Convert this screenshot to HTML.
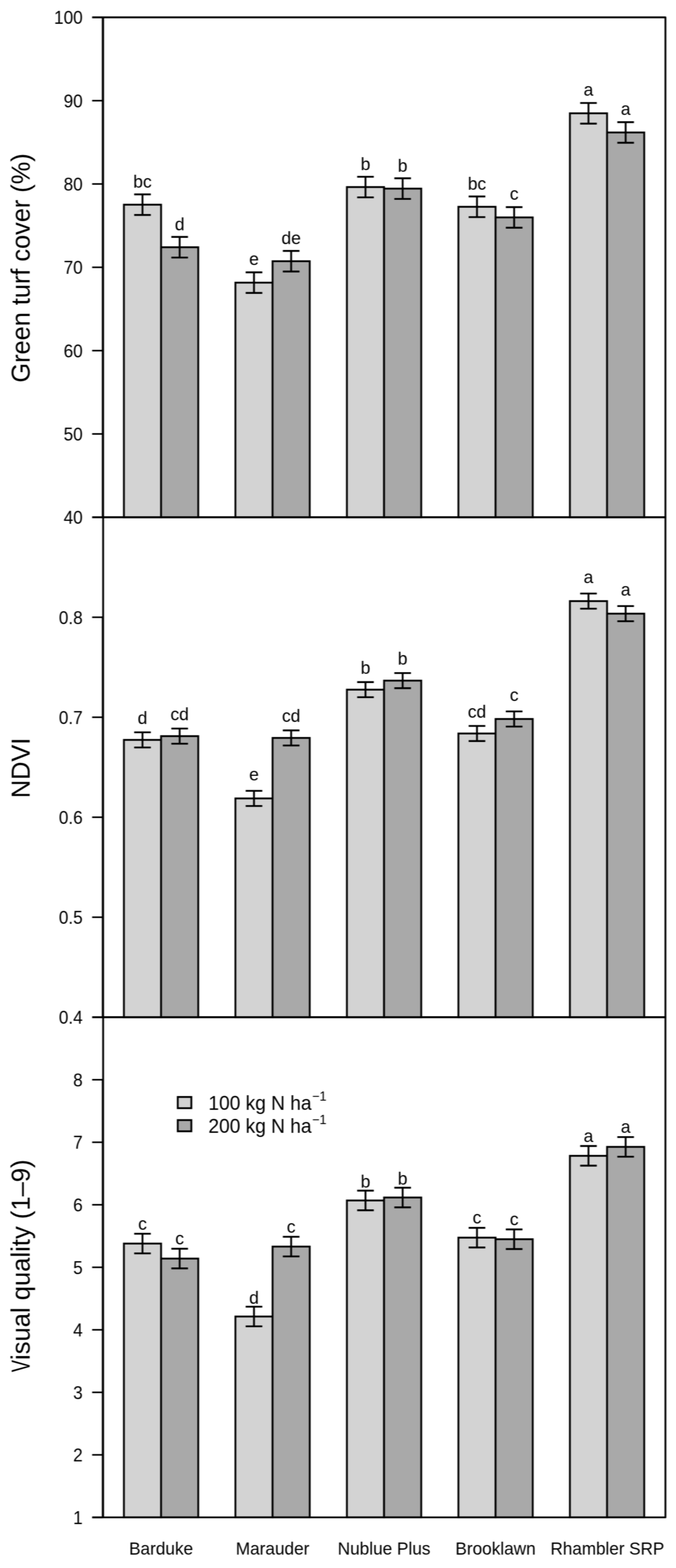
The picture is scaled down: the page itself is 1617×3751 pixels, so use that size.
<!DOCTYPE html>
<html lang="en"><head><meta charset="utf-8"><title>Turf cultivar response to nitrogen</title>
<style>
html,body{margin:0;padding:0;background:#fff;}
body{width:1617px;height:3751px;overflow:hidden;}
svg{display:block;}
text{font-family:"Liberation Sans",sans-serif;fill:#000;font-kerning:none;}
.t{font-size:41.67px;}
.yl{font-size:41.67px;text-anchor:end;}
.xl{font-size:41.67px;text-anchor:middle;}
.sig{font-size:41.67px;text-anchor:middle;}
.ttl{font-size:62.5px;text-anchor:middle;}
.lg{font-size:46.2px;}
.ln{stroke:#000;stroke-width:4.4;fill:none;stroke-linecap:round;stroke-linejoin:round;}
.eb{stroke-linecap:butt;}
.bar{stroke:#000;stroke-width:4.4;stroke-linejoin:miter;}
</style></head><body>
<svg width="1617" height="3751" viewBox="0 0 1617 3751">
<defs><filter id="soft" x="0" y="0" width="1617" height="3751" filterUnits="userSpaceOnUse" color-interpolation-filters="sRGB"><feGaussianBlur in="SourceGraphic" stdDeviation="0.9 0.5" result="h"/><feGaussianBlur in="SourceGraphic" stdDeviation="0.9" result="hv"/><feComposite in="h" in2="hv" operator="arithmetic" k1="0" k2="0.6" k3="0.4" k4="0"/></filter></defs>
<g filter="url(#soft)">
<rect x="0" y="0" width="1617" height="3751" fill="#fff"/>
<g>
<rect class="bar" x="296.40" y="489.65" width="88.90" height="747.75" fill="#d3d3d3"/>
<rect class="bar" x="385.30" y="591.45" width="88.90" height="645.95" fill="#a9a9a9"/>
<rect class="bar" x="563.10" y="676.15" width="88.90" height="561.25" fill="#d3d3d3"/>
<rect class="bar" x="652.00" y="624.90" width="88.90" height="612.50" fill="#a9a9a9"/>
<rect class="bar" x="829.80" y="447.50" width="88.90" height="789.90" fill="#d3d3d3"/>
<rect class="bar" x="918.70" y="451.20" width="88.90" height="786.20" fill="#a9a9a9"/>
<rect class="bar" x="1096.50" y="494.70" width="88.90" height="742.70" fill="#d3d3d3"/>
<rect class="bar" x="1185.40" y="520.10" width="88.90" height="717.30" fill="#a9a9a9"/>
<rect class="bar" x="1363.20" y="271.05" width="88.90" height="966.35" fill="#d3d3d3"/>
<rect class="bar" x="1452.10" y="316.90" width="88.90" height="920.50" fill="#a9a9a9"/>
<path class="ln eb" d="M340.85 465.00V514.30M320.95 465.00H360.75M320.95 514.30H360.75"/>
<text class="sig" x="340.85" y="449.20">bc</text>
<path class="ln eb" d="M429.75 566.80V616.10M409.85 566.80H449.65M409.85 616.10H449.65"/>
<text class="sig" x="429.75" y="551.00">d</text>
<path class="ln eb" d="M607.55 651.50V700.80M587.65 651.50H627.45M587.65 700.80H627.45"/>
<text class="sig" x="607.55" y="634.00">e</text>
<path class="ln eb" d="M696.45 600.25V649.55M676.55 600.25H716.35M676.55 649.55H716.35"/>
<text class="sig" x="696.45" y="584.45">de</text>
<path class="ln eb" d="M874.25 422.85V472.15M854.35 422.85H894.15M854.35 472.15H894.15"/>
<text class="sig" x="874.25" y="407.05">b</text>
<path class="ln eb" d="M963.15 426.55V475.85M943.25 426.55H983.05M943.25 475.85H983.05"/>
<text class="sig" x="963.15" y="410.75">b</text>
<path class="ln eb" d="M1140.95 470.05V519.35M1121.05 470.05H1160.85M1121.05 519.35H1160.85"/>
<text class="sig" x="1140.95" y="454.25">bc</text>
<path class="ln eb" d="M1229.85 495.45V544.75M1209.95 495.45H1249.75M1209.95 544.75H1249.75"/>
<text class="sig" x="1229.85" y="477.95">c</text>
<path class="ln eb" d="M1407.65 246.40V295.70M1387.75 246.40H1427.55M1387.75 295.70H1427.55"/>
<text class="sig" x="1407.65" y="228.90">a</text>
<path class="ln eb" d="M1496.55 292.25V341.55M1476.65 292.25H1516.45M1476.65 341.55H1516.45"/>
<text class="sig" x="1496.55" y="274.75">a</text>
</g>
<g>
<rect class="bar" x="296.40" y="1770.00" width="88.90" height="663.40" fill="#d3d3d3"/>
<rect class="bar" x="385.30" y="1761.00" width="88.90" height="672.40" fill="#a9a9a9"/>
<rect class="bar" x="563.10" y="1910.00" width="88.90" height="523.40" fill="#d3d3d3"/>
<rect class="bar" x="652.00" y="1765.30" width="88.90" height="668.10" fill="#a9a9a9"/>
<rect class="bar" x="829.80" y="1649.80" width="88.90" height="783.60" fill="#d3d3d3"/>
<rect class="bar" x="918.70" y="1628.20" width="88.90" height="805.20" fill="#a9a9a9"/>
<rect class="bar" x="1096.50" y="1754.70" width="88.90" height="678.70" fill="#d3d3d3"/>
<rect class="bar" x="1185.40" y="1720.00" width="88.90" height="713.40" fill="#a9a9a9"/>
<rect class="bar" x="1363.20" y="1438.00" width="88.90" height="995.40" fill="#d3d3d3"/>
<rect class="bar" x="1452.10" y="1468.00" width="88.90" height="965.40" fill="#a9a9a9"/>
<path class="ln eb" d="M340.85 1751.90V1788.10M320.95 1751.90H360.75M320.95 1788.10H360.75"/>
<text class="sig" x="340.85" y="1731.80">d</text>
<path class="ln eb" d="M429.75 1742.90V1779.10M409.85 1742.90H449.65M409.85 1779.10H449.65"/>
<text class="sig" x="429.75" y="1722.80">cd</text>
<path class="ln eb" d="M607.55 1891.90V1928.10M587.65 1891.90H627.45M587.65 1928.10H627.45"/>
<text class="sig" x="607.55" y="1867.10">e</text>
<path class="ln eb" d="M696.45 1747.20V1783.40M676.55 1747.20H716.35M676.55 1783.40H716.35"/>
<text class="sig" x="696.45" y="1727.10">cd</text>
<path class="ln eb" d="M874.25 1631.70V1667.90M854.35 1631.70H894.15M854.35 1667.90H894.15"/>
<text class="sig" x="874.25" y="1611.60">b</text>
<path class="ln eb" d="M963.15 1610.10V1646.30M943.25 1610.10H983.05M943.25 1646.30H983.05"/>
<text class="sig" x="963.15" y="1590.00">b</text>
<path class="ln eb" d="M1140.95 1736.60V1772.80M1121.05 1736.60H1160.85M1121.05 1772.80H1160.85"/>
<text class="sig" x="1140.95" y="1716.50">cd</text>
<path class="ln eb" d="M1229.85 1701.90V1738.10M1209.95 1701.90H1249.75M1209.95 1738.10H1249.75"/>
<text class="sig" x="1229.85" y="1677.10">c</text>
<path class="ln eb" d="M1407.65 1419.90V1456.10M1387.75 1419.90H1427.55M1387.75 1456.10H1427.55"/>
<text class="sig" x="1407.65" y="1395.10">a</text>
<path class="ln eb" d="M1496.55 1449.90V1486.10M1476.65 1449.90H1516.45M1476.65 1486.10H1516.45"/>
<text class="sig" x="1496.55" y="1425.10">a</text>
</g>
<g>
<rect class="bar" x="296.40" y="2974.90" width="88.90" height="655.00" fill="#d3d3d3"/>
<rect class="bar" x="385.30" y="3010.80" width="88.90" height="619.10" fill="#a9a9a9"/>
<rect class="bar" x="563.10" y="3149.40" width="88.90" height="480.50" fill="#d3d3d3"/>
<rect class="bar" x="652.00" y="2982.10" width="88.90" height="647.80" fill="#a9a9a9"/>
<rect class="bar" x="829.80" y="2871.80" width="88.90" height="758.10" fill="#d3d3d3"/>
<rect class="bar" x="918.70" y="2864.70" width="88.90" height="765.20" fill="#a9a9a9"/>
<rect class="bar" x="1096.50" y="2960.70" width="88.90" height="669.20" fill="#d3d3d3"/>
<rect class="bar" x="1185.40" y="2964.50" width="88.90" height="665.40" fill="#a9a9a9"/>
<rect class="bar" x="1363.20" y="2765.00" width="88.90" height="864.90" fill="#d3d3d3"/>
<rect class="bar" x="1452.10" y="2743.60" width="88.90" height="886.30" fill="#a9a9a9"/>
<path class="ln eb" d="M340.85 2951.40V2998.40M320.95 2951.40H360.75M320.95 2998.40H360.75"/>
<text class="sig" x="340.85" y="2941.50">c</text>
<path class="ln eb" d="M429.75 2987.30V3034.30M409.85 2987.30H449.65M409.85 3034.30H449.65"/>
<text class="sig" x="429.75" y="2977.40">c</text>
<path class="ln eb" d="M607.55 3125.90V3172.90M587.65 3125.90H627.45M587.65 3172.90H627.45"/>
<text class="sig" x="607.55" y="3118.70">d</text>
<path class="ln eb" d="M696.45 2958.60V3005.60M676.55 2958.60H716.35M676.55 3005.60H716.35"/>
<text class="sig" x="696.45" y="2948.70">c</text>
<path class="ln eb" d="M874.25 2848.30V2895.30M854.35 2848.30H894.15M854.35 2895.30H894.15"/>
<text class="sig" x="874.25" y="2841.10">b</text>
<path class="ln eb" d="M963.15 2841.20V2888.20M943.25 2841.20H983.05M943.25 2888.20H983.05"/>
<text class="sig" x="963.15" y="2834.00">b</text>
<path class="ln eb" d="M1140.95 2937.20V2984.20M1121.05 2937.20H1160.85M1121.05 2984.20H1160.85"/>
<text class="sig" x="1140.95" y="2927.30">c</text>
<path class="ln eb" d="M1229.85 2941.00V2988.00M1209.95 2941.00H1249.75M1209.95 2988.00H1249.75"/>
<text class="sig" x="1229.85" y="2931.10">c</text>
<path class="ln eb" d="M1407.65 2741.50V2788.50M1387.75 2741.50H1427.55M1387.75 2788.50H1427.55"/>
<text class="sig" x="1407.65" y="2731.60">a</text>
<path class="ln eb" d="M1496.55 2720.10V2767.10M1476.65 2720.10H1516.45M1476.65 2767.10H1516.45"/>
<text class="sig" x="1496.55" y="2710.20">a</text>
</g>
<path class="ln" d="M246.7 41.5H1591.7V3629.9H246.7Z"/>
<path class="ln" style="stroke-width:4.7" d="M246.7 1237.4H1591.7M246.7 2433.4H1591.7"/>
<path class="ln eb" style="stroke-width:3.7" d="M245.4 39.65V1239.25"/>
<path class="ln eb" style="stroke-width:3.7" d="M245.4 1474.75V2435.25"/>
<path class="ln eb" style="stroke-width:3.7" d="M245.4 2581.11V3631.75"/>
<path class="ln eb" style="stroke-width:4.6" d="M220.40 1237.40H245.4"/>
<text class="yl" transform="translate(197.8 1253.30) scale(0.985 1.045)">40</text>
<path class="ln eb" style="stroke-width:3.8" d="M220.40 1038.08H245.4"/>
<text class="yl" transform="translate(197.8 1053.98) scale(0.985 1.045)">50</text>
<path class="ln eb" style="stroke-width:3.8" d="M220.40 838.77H245.4"/>
<text class="yl" transform="translate(197.8 854.67) scale(0.985 1.045)">60</text>
<path class="ln eb" style="stroke-width:3.8" d="M220.40 639.45H245.4"/>
<text class="yl" transform="translate(197.8 655.35) scale(0.985 1.045)">70</text>
<path class="ln eb" style="stroke-width:3.8" d="M220.40 440.13H245.4"/>
<text class="yl" transform="translate(197.8 456.03) scale(0.985 1.045)">80</text>
<path class="ln eb" style="stroke-width:3.8" d="M220.40 240.82H245.4"/>
<text class="yl" transform="translate(197.8 256.72) scale(0.985 1.045)">90</text>
<path class="ln eb" style="stroke-width:4.6" d="M220.40 41.50H245.4"/>
<text class="yl" transform="translate(197.8 57.40) scale(0.985 1.045)">100</text>
<text class="ttl" transform="translate(71 641.0) rotate(-90) scale(0.969 1)">Green turf cover (%)</text>
<path class="ln eb" style="stroke-width:4.6" d="M220.40 2433.40H245.4"/>
<text class="yl" transform="translate(197.8 2449.30) scale(0.985 1.045)">0.4</text>
<path class="ln eb" style="stroke-width:3.8" d="M220.40 2194.20H245.4"/>
<text class="yl" transform="translate(197.8 2210.10) scale(0.985 1.045)">0.5</text>
<path class="ln eb" style="stroke-width:3.8" d="M220.40 1955.00H245.4"/>
<text class="yl" transform="translate(197.8 1970.90) scale(0.985 1.045)">0.6</text>
<path class="ln eb" style="stroke-width:3.8" d="M220.40 1715.80H245.4"/>
<text class="yl" transform="translate(197.8 1731.70) scale(0.985 1.045)">0.7</text>
<path class="ln eb" style="stroke-width:3.8" d="M220.40 1476.60H245.4"/>
<text class="yl" transform="translate(197.8 1492.50) scale(0.985 1.045)">0.8</text>
<text class="ttl" transform="translate(71 1837.0) rotate(-90) scale(0.969 1)">NDVI</text>
<path class="ln eb" style="stroke-width:4.6" d="M220.40 3629.90H245.4"/>
<text class="yl" transform="translate(197.8 3645.80) scale(0.985 1.045)">1</text>
<path class="ln eb" style="stroke-width:3.8" d="M220.40 3480.34H245.4"/>
<text class="yl" transform="translate(197.8 3496.24) scale(0.985 1.045)">2</text>
<path class="ln eb" style="stroke-width:3.8" d="M220.40 3330.78H245.4"/>
<text class="yl" transform="translate(197.8 3346.68) scale(0.985 1.045)">3</text>
<path class="ln eb" style="stroke-width:3.8" d="M220.40 3181.21H245.4"/>
<text class="yl" transform="translate(197.8 3197.11) scale(0.985 1.045)">4</text>
<path class="ln eb" style="stroke-width:3.8" d="M220.40 3031.65H245.4"/>
<text class="yl" transform="translate(197.8 3047.55) scale(0.985 1.045)">5</text>
<path class="ln eb" style="stroke-width:3.8" d="M220.40 2882.09H245.4"/>
<text class="yl" transform="translate(197.8 2897.99) scale(0.985 1.045)">6</text>
<path class="ln eb" style="stroke-width:3.8" d="M220.40 2732.53H245.4"/>
<text class="yl" transform="translate(197.8 2748.43) scale(0.985 1.045)">7</text>
<path class="ln eb" style="stroke-width:3.8" d="M220.40 2582.96H245.4"/>
<text class="yl" transform="translate(197.8 2598.86) scale(0.985 1.045)">8</text>
<text class="ttl" transform="translate(71 3028.0) rotate(-90) scale(0.98 1)"><tspan textLength="29.6" lengthAdjust="spacingAndGlyphs">V</tspan>isual quality (1–9)</text>
<text class="xl" transform="translate(385.30 3718.6) scale(0.988 1)">Barduke</text>
<text class="xl" transform="translate(652.00 3718.6) scale(0.988 1)">Marauder</text>
<text class="xl" transform="translate(918.70 3718.6) scale(0.988 1)">Nublue Plus</text>
<text class="xl" transform="translate(1185.40 3718.6) scale(0.988 1)">Brooklawn</text>
<text class="xl" transform="translate(1452.90 3718.6) scale(0.98 1)">Rhambler SRP</text>
<rect class="bar" x="425.2" y="2624.20" width="32.5" height="26.8" fill="#d3d3d3"/>
<text class="lg" transform="translate(498.6 2654.50) scale(0.99 1.03)">100 kg N ha<tspan dy="-20.5" dx="1.5" font-size="30.5">−</tspan><tspan font-size="30.5">1</tspan></text>
<rect class="bar" x="425.2" y="2679.50" width="32.5" height="26.8" fill="#a9a9a9"/>
<text class="lg" transform="translate(498.6 2709.80) scale(0.99 1.03)">200 kg N ha<tspan dy="-20.5" dx="1.5" font-size="30.5">−</tspan><tspan font-size="30.5">1</tspan></text>
</g>
</svg>
</body></html>
